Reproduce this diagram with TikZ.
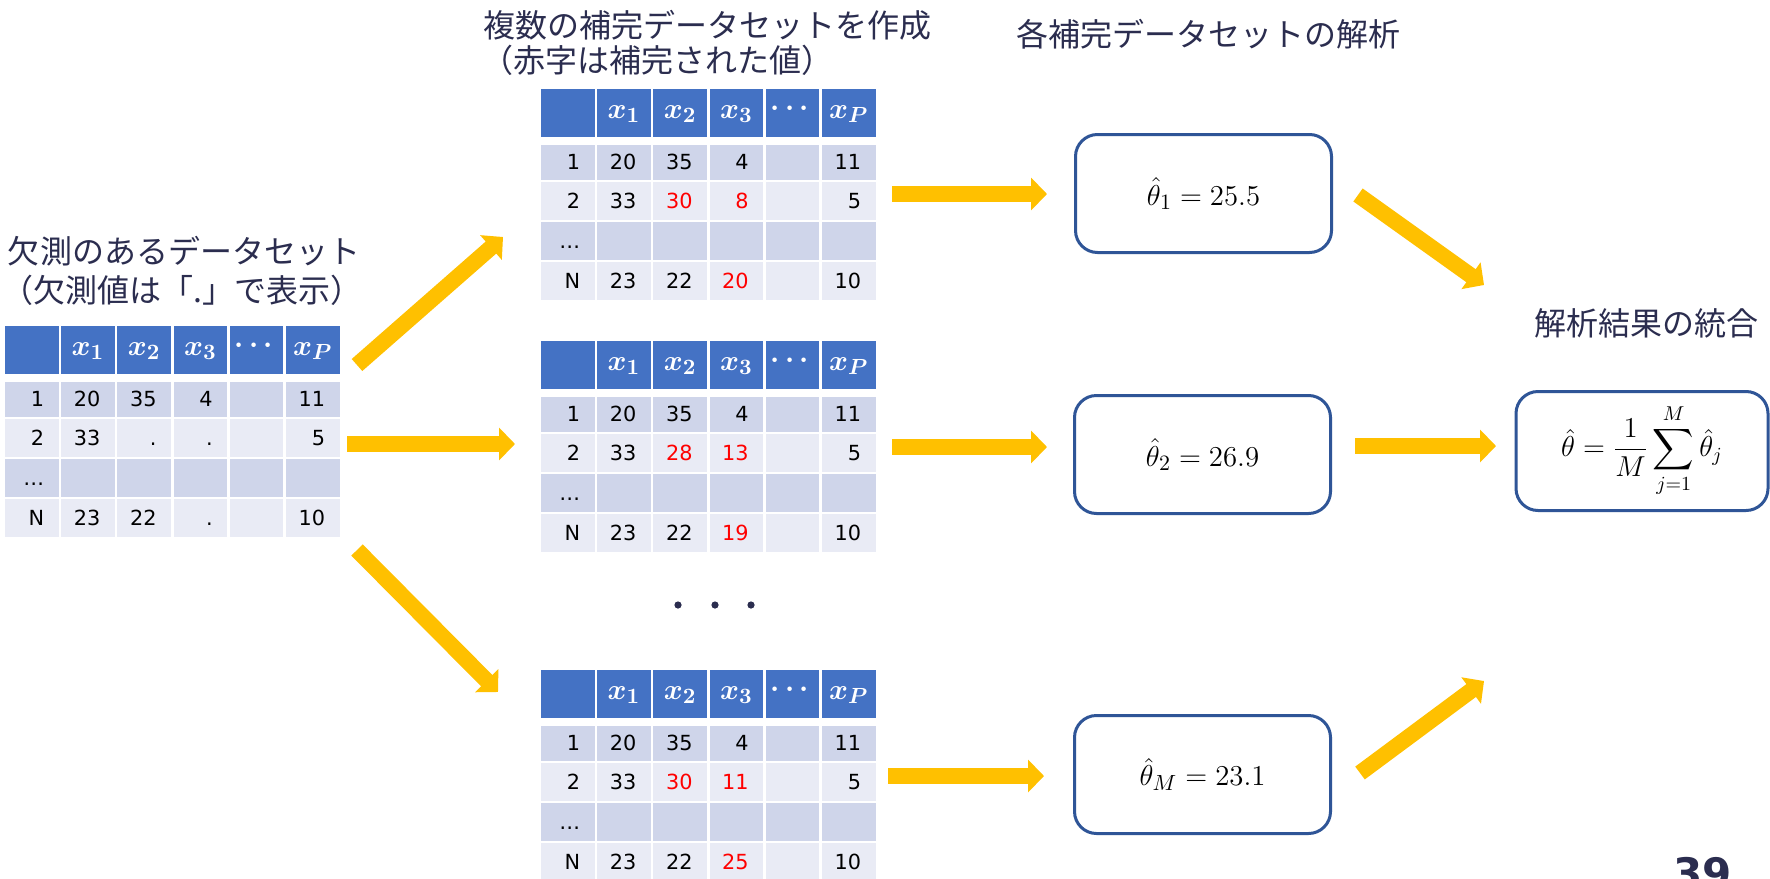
\documentclass[tikz,border=0pt]{standalone}
\usepackage{fontspec}
\usepackage{amsmath}
\usetikzlibrary{arrows.meta}
\newfontfamily\jpfont{Noto Sans CJK JP}
\newfontfamily\cellfont{DejaVu Sans}
\definecolor{hdr}{HTML}{4472C4}
\definecolor{rowA}{HTML}{CFD5EA}
\definecolor{rowB}{HTML}{E9EBF5}
\definecolor{arrY}{HTML}{FFC000}
\definecolor{boxB}{HTML}{2F5597}
\definecolor{ttl}{HTML}{2B2D4F}
\definecolor{redv}{HTML}{FF0000}
\tikzset{
  ttltext/.style={font=\jpfont\fontsize{16}{19}\selectfont, text=ttl, inner sep=0pt, anchor=base},
  celltxt/.style={font=\cellfont\fontsize{10.4}{12}\selectfont, inner sep=0pt, anchor=base east},
  hdrtxt/.style={text=white, inner sep=0pt, font=\fontsize{15}{17}\selectfont},
  rbox/.style={draw=boxB, line width=1.5pt, rounded corners=11pt, fill=white, inner sep=0pt,
    minimum width=128pt, minimum height=59pt, font=\fontsize{15.5}{18}\selectfont},
  yarrow/.style={draw=arrY, line width=8pt, -{Triangle[width=16pt,length=8pt]}},
  dotnode/.style={circle, fill=ttl, inner sep=0pt, minimum size=3.6pt}
}
\newcommand\mtable[5]{%
 \begin{scope}[shift={#2}]
 \foreach \j in {0,...,5}{
   \fill[hdr] ({56.2*\j},0) rectangle ({56.2*\j+53.5},48);
   \fill[rowA] ({56.2*\j},56) rectangle ({56.2*\j+53.5},91);
   \fill[rowB] ({56.2*\j},93) rectangle ({56.2*\j+53.5},131);
   \fill[rowA] ({56.2*\j},133) rectangle ({56.2*\j+53.5},171);
   \fill[rowB] ({56.2*\j},173) rectangle ({56.2*\j+53.5},211);
 }
 \node[hdrtxt] (#1-h1) at (82.95,25) {$\boldsymbol{x_1}$};
 \node[hdrtxt] (#1-h2) at (139.15,25) {$\boldsymbol{x_2}$};
 \node[hdrtxt] (#1-h3) at (195.35,25) {$\boldsymbol{x_3}$};
 \node[hdrtxt] (#1-h4) at (251.55,20) {$\boldsymbol{\cdots}$};
 \node[hdrtxt] (#1-h5) at (307.75,25) {$\boldsymbol{x_P}$};
 % row 1
 \node[celltxt] (#1-r1c0) at (39.5,80.5) {1};
 \node[celltxt] (#1-r1c1) at (95.7,80.5) {20};
 \node[celltxt] (#1-r1c2) at (151.9,80.5) {35};
 \node[celltxt] (#1-r1c3) at (208.1,80.5) {4};
 \node[celltxt] (#1-r1c5) at (320.5,80.5) {11};
 % row 2
 \node[celltxt] (#1-r2c0) at (39.5,119.5) {2};
 \node[celltxt] (#1-r2c1) at (95.7,119.5) {33};
 \node[celltxt] (#1-r2c2) at (151.9,119.5) {#3};
 \node[celltxt] (#1-r2c3) at (208.1,119.5) {#4};
 \node[celltxt] (#1-r2c5) at (320.5,119.5) {5};
 % row 3
 \node[celltxt] (#1-r3c0) at (39.5,159) {…};
 % row N
 \node[celltxt] (#1-rNc0) at (39.5,199.5) {N};
 \node[celltxt] (#1-rNc1) at (95.7,199.5) {23};
 \node[celltxt] (#1-rNc2) at (151.9,199.5) {22};
 \node[celltxt] (#1-rNc3) at (208.1,199.5) {#5};
 \node[celltxt] (#1-rNc5) at (320.5,199.5) {10};
 \end{scope}}
\begin{document}
\begin{tikzpicture}[x=0.5pt,y=-0.5pt]
\useasboundingbox (0,0) rectangle (1770,878);
\fill[white] (0,0) rectangle (1770,878);

% titles
\node[ttltext] (tL1) at (184,263.5) {欠測のあるデータセット};
\node[ttltext] (tL2) at (182,302) {（欠測値は「.」で表示）};
\node[ttltext] (tM1) at (707,37) {複数の補完データセットを作成};
\node[ttltext] (tM2) at (657,72) {（赤字は補完された値）};
\node[ttltext] (tR) at (1208,46) {各補完データセットの解析};
\node[ttltext] (tF) at (1646,335) {解析結果の統合};

% tables
\mtable{L}{(5,326)}{.}{.}{.}
\mtable{A}{(541,89)}{\textcolor{redv}{30}}{\textcolor{redv}{8}}{\textcolor{redv}{20}}
\mtable{B}{(541,341)}{\textcolor{redv}{28}}{\textcolor{redv}{13}}{\textcolor{redv}{19}}
\mtable{C}{(541,670)}{\textcolor{redv}{30}}{\textcolor{redv}{11}}{\textcolor{redv}{25}}

% dots
\node[dotnode] (d1) at (678,605) {};
\node[dotnode] (d2) at (715,605) {};
\node[dotnode] (d3) at (751,605) {};

% result boxes
\node[rbox] (b1) at (1203.5,193.5) {$\hat{\theta}_1 = 25.5$};
\node[rbox] (b2) at (1202.5,454.5) {$\hat{\theta}_2 = 26.9$};
\node[rbox] (bM) at (1202.5,774.5) {$\hat{\theta}_M = 23.1$};
\node[rbox, minimum width=126pt, minimum height=59.5pt, font=\fontsize{14.5}{17}\selectfont] (bF) at (1642,451)
  {$\displaystyle \hat{\theta} = \frac{1}{M}\sum_{j=1}^{M}\hat{\theta}_j$};

% arrow end points
\coordinate (aL1s) at (357,365); \coordinate (aL1e) at (503,237);
\coordinate (aL2s) at (347,444); \coordinate (aL2e) at (515,444);
\coordinate (aL3s) at (357,550); \coordinate (aL3e) at (498,692);
\coordinate (aM1s) at (892,194); \coordinate (aM1e) at (1047,194);
\coordinate (aM2s) at (892,447); \coordinate (aM2e) at (1047,447);
\coordinate (aM3s) at (888,776); \coordinate (aM3e) at (1044,776);
\coordinate (aF1s) at (1358,195); \coordinate (aF1e) at (1484,285);
\coordinate (aF2s) at (1355,446); \coordinate (aF2e) at (1496,446);
\coordinate (aF3s) at (1360,773); \coordinate (aF3e) at (1484,681);

\draw[yarrow] (aL1s) -- (aL1e);
\draw[yarrow] (aL2s) -- (aL2e);
\draw[yarrow] (aL3s) -- (aL3e);
\draw[yarrow] (aM1s) -- (aM1e);
\draw[yarrow] (aM2s) -- (aM2e);
\draw[yarrow] (aM3s) -- (aM3e);
\draw[yarrow] (aF1s) -- (aF1e);
\draw[yarrow] (aF2s) -- (aF2e);
\draw[yarrow] (aF3s) -- (aF3e);

% page number
\node[font=\cellfont\bfseries\fontsize{21}{25}\selectfont, text=ttl, anchor=base east, inner sep=0pt] (pg) at (1732,888) {39};
\end{tikzpicture}
\end{document}
